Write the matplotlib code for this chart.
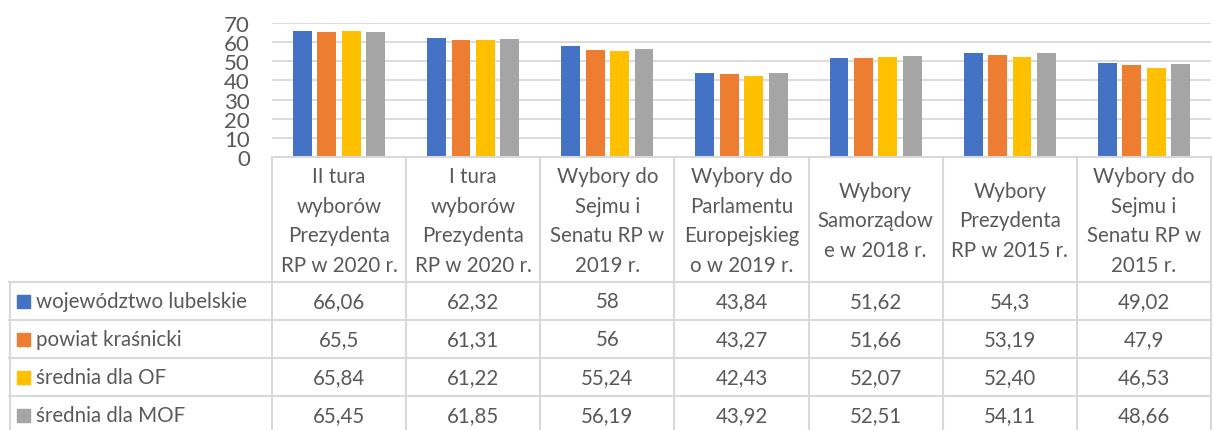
import matplotlib.pyplot as plt
import numpy as np

# ================= DATA =================
categories = [
    "II tura\nwyborów\nPrezydenta\nRP w 2020 r.",
    "I tura\nwyborów\nPrezydenta\nRP w 2020 r.",
    "Wybory do\nSejmu i\nSenatu RP w\n2019 r.",
    "Wybory do\nParlamentu\nEuropejskieg\no w 2019 r.",
    "Wybory\nSamorządow\ne w 2018 r.",
    "Wybory\nPrezydenta\nRP w 2015 r.",
    "Wybory do\nSejmu i\nSenatu RP w\n2015 r.",
]
series_names = ["województwo lubelskie", "powiat kraśnicki", "średnia dla OF", "średnia dla MOF"]
wojewodztwo = [66.06, 62.32, 58, 43.84, 51.62, 54.3, 49.02]
powiat = [65.5, 61.31, 56, 43.27, 51.66, 53.19, 47.9]
srednia_of = [65.84, 61.22, 55.24, 42.43, 52.07, 52.40, 46.53]
srednia_mof = [65.45, 61.85, 56.19, 43.92, 52.51, 54.11, 48.66]
# labels exactly as printed in the table
table_text = [
    ["66,06", "62,32", "58", "43,84", "51,62", "54,3", "49,02"],
    ["65,5", "61,31", "56", "43,27", "51,66", "53,19", "47,9"],
    ["65,84", "61,22", "55,24", "42,43", "52,07", "52,40", "46,53"],
    ["65,45", "61,85", "56,19", "43,92", "52,51", "54,11", "48,66"],
]
colors = ["#4472c4", "#ed7d31", "#ffc000", "#a5a5a5"]
yticks = [0, 10, 20, 30, 40, 50, 60, 70]

# ================= STYLE =================
plt.rcParams["font.family"] = ["Lato", "DejaVu Sans"]
TXT = "#595959"
GRID = "#d9d9d9"
W, H = 1213, 431
FS = 14.8

fig = plt.figure(figsize=(W / 100, H / 100), dpi=100)

# pixel layout
x_left, x_right = 272, 1211
y_top, y_zero = 24, 158
ax = fig.add_axes([x_left / W, 1 - y_zero / H, (x_right - x_left) / W, (y_zero - y_top) / H])

n = len(categories)
x = np.arange(n)
bw = 0.14
step = 0.182
for i, (vals, c) in enumerate(zip([wojewodztwo, powiat, srednia_of, srednia_mof], colors)):
    ax.bar(x + (i - 1.5) * step, vals, width=bw, color=c, zorder=3)

ax.set_xlim(-0.5, n - 0.5)
ax.set_ylim(0, 70)
ax.set_yticks(yticks)
ax.set_yticklabels([str(t) for t in yticks], fontsize=16, color=TXT)
ax.tick_params(axis="y", length=0, pad=16)
ax.set_xticks([])
ax.yaxis.grid(True, color=GRID, linewidth=1.3, zorder=0)
for s in ax.spines.values():
    s.set_visible(False)

# ================= DATA TABLE =================
cw = (x_right - x_left) / n
legend_w = (x_left - 9) / cw
tab = fig.add_axes([9 / W, 0, (x_right - 9) / W, (H - y_zero) / H])
tab.set_xlim(-0.5 - legend_w, n - 0.5)
tab.set_ylim(H - y_zero, 0)
tab.axis("off")

hdr = 125
row_h = 38
lc = dict(color=GRID, linewidth=1.5, clip_on=False)
tab.plot([-0.5, n - 0.5], [0, 0], **lc)
for k in range(n + 1):
    tab.plot([k - 0.5, k - 0.5], [0, H - y_zero], **lc)
tab.plot([-0.5 - legend_w + 0.005, -0.5 - legend_w + 0.005], [hdr, H - y_zero], **lc)
for r in range(4):
    tab.plot([-0.5 - legend_w, n - 0.5], [hdr + r * row_h] * 2, **lc)

for k, cat in enumerate(categories):
    tab.text(k, hdr / 2 + 1, cat, ha="center", va="center", fontsize=FS, color=TXT, linespacing=1.62)

for r, name in enumerate(series_names):
    yc = hdr + r * row_h + row_h / 2
    tab.add_patch(plt.Rectangle((-0.5 - legend_w + 0.06, yc - 6.5), 0.1, 13, color=colors[r]))
    tab.text(-0.5 - legend_w + 0.2, yc, name, ha="left", va="center", fontsize=FS, color=TXT)
    for k in range(n):
        tab.text(k, yc, table_text[r][k], ha="center", va="center", fontsize=FS, color=TXT)

fig.savefig("out.png", dpi=100)
